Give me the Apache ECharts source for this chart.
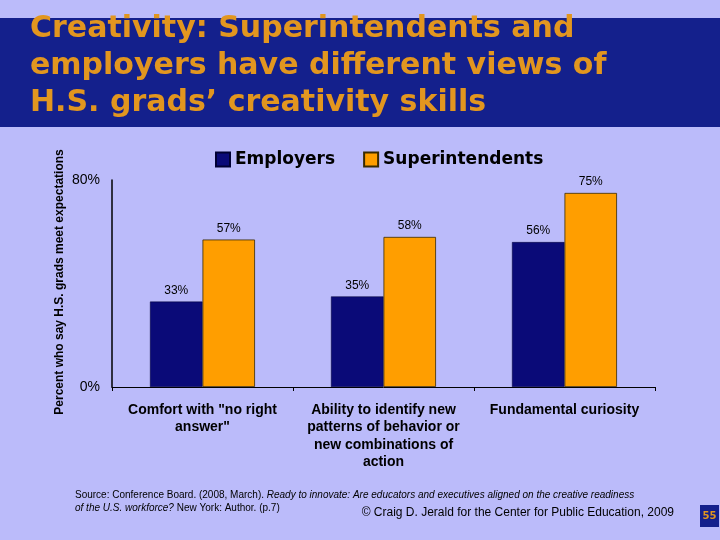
<!DOCTYPE html>
<html><head><meta charset="utf-8">
<script src="https://cdn.jsdelivr.net/npm/echarts@6/dist/echarts.min.js"></script>
<style>html,body{margin:0;padding:0;background:#BBBBFA;}#c{width:720px;height:540px;}</style>
</head><body><div id="c"></div>
<script>
const categories = ['Comfort with "no right\nanswer"', 'Ability to identify new\npatterns of behavior or\nnew combinations of\naction', 'Fundamental curiosity'];
const employers = [33, 35, 56];
const superintendents = [57, 58, 75];
const yTicks = [0, 80];

const chart = echarts.init(document.getElementById('c'));
chart.setOption({
  backgroundColor: '#BBBBFA',
  animation: false,
  graphic: [
    {type: 'rect', left: 0, top: 18, shape: {width: 720, height: 109}, style: {fill: '#14208C'}, z: 0},
    {type: 'text', left: 30, top: 11, style: {text: 'Creativity: Superintendents and\nemployers have different views of\nH.S. grads\u2019 creativity skills', font: 'bold 30px "DejaVu Sans"', fill: '#E2961F', lineHeight: 37}, z: 1},
    {type: 'text', x: 60, y: 282, rotation: Math.PI/2, style: {text: 'Percent who say H.S. grads meet expectations', font: 'bold 12px "Liberation Sans"', fill: '#000', align: 'center', verticalAlign: 'middle'}},
    {type: 'text', left: 75, top: 490, style: {text: '{n|Source: Conference Board. (2008, March). }{i|Ready to innovate: Are educators and executives aligned on the creative readiness}\n{i|of the U.S. workforce?}{n| New York: Author. (p.7)}', rich: {n: {font: '10px "Liberation Sans"', fill: '#000', lineHeight: 13}, i: {font: 'italic 10px "Liberation Sans"', fill: '#000', lineHeight: 13}}}},
    {type: 'text', right: 46, top: 507, style: {text: '\u00A9 Craig D. Jerald for the Center for Public Education, 2009', font: '12px "Liberation Sans"', fill: '#000'}},
    {type: 'rect', left: 700, top: 505, shape: {width: 19, height: 22}, style: {fill: '#14208C'}},
    {type: 'text', x: 709.5, y: 516, style: {text: '55', font: 'bold 10px "DejaVu Sans"', fill: '#E2961F', align: 'center', verticalAlign: 'middle'}}
  ],
  legend: {
    left: 210, top: 146, itemWidth: 14, itemHeight: 14, itemGap: 28,
    textStyle: {fontFamily: 'DejaVu Sans', fontWeight: 'bold', fontSize: 17, color: '#000'},
    data: [{name: 'Employers', icon: 'rect'}, {name: 'Superintendents', icon: 'rect'}]
  },
  grid: {left: 112, right: 65, top: 180, bottom: 153},
  xAxis: {
    type: 'category', data: categories,
    axisLine: {lineStyle: {color: '#000', width: 1}},
    axisTick: {show: true, length: 4, lineStyle: {color: '#000'}},
    axisLabel: {interval: 0, margin: 14, fontFamily: 'Liberation Sans', fontWeight: 'bold', fontSize: 14, lineHeight: 17.5, color: '#000'}
  },
  yAxis: {
    type: 'value', min: 0, max: 80, interval: 80,
    axisLine: {show: true, lineStyle: {color: '#000', width: 1.5}},
    axisTick: {show: false}, splitLine: {show: false},
    axisLabel: {margin: 12, fontFamily: 'Liberation Sans', fontSize: 14, color: '#000', formatter: v => yTicks.includes(v) ? v + '%' : ''}
  },
  series: [
    {name: 'Employers', type: 'bar', data: employers, barGap: '0%', barCategoryGap: '42%',
     itemStyle: {color: '#0A0A78', borderColor: '#000033', borderWidth: 0.5},
     label: {show: true, position: 'top', distance: 5, formatter: '{c}%', fontFamily: 'Liberation Sans', fontSize: 12, color: '#000'}},
    {name: 'Superintendents', type: 'bar', data: superintendents,
     itemStyle: {color: '#FF9E00', borderColor: '#3A2A00', borderWidth: 0.8},
     label: {show: true, position: 'top', distance: 5, formatter: '{c}%', fontFamily: 'Liberation Sans', fontSize: 12, color: '#000'}}
  ]
});
</script></body></html>
